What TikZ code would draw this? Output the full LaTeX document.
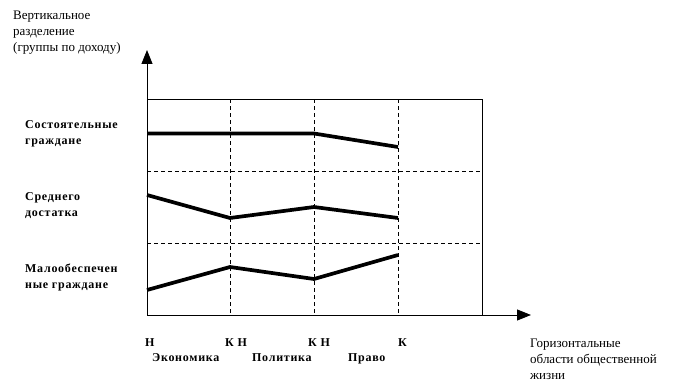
\documentclass[tikz,border=0pt]{standalone}
\usepackage{fontspec}
\setmainfont{Liberation Serif}
\newfontfamily\grpfont[LetterSpace=6]{Liberation Serif}
\usetikzlibrary{arrows.meta}

\begin{document}
\begin{tikzpicture}[
x=1pt, y=-1pt,
axis/.style={line width=0.9pt, -{Triangle[length=14pt, width=11pt]}},
grid/.style={line width=0.9pt, dash pattern=on 4pt off 3pt},
frame/.style={line width=0.9pt},
income/.style={line width=3.7pt, line join=round},
group/.style={anchor=base west, inner sep=0pt, align=left,
  font=\grpfont\bfseries\fontsize{12}{16}\selectfont},
note/.style={anchor=base west, inner sep=0pt, align=left,
  font=\fontsize{13}{16}\selectfont}
]
\useasboundingbox (0,0) rectangle (678,390);

% axes
\coordinate (o) at (147,315);
\coordinate (ytip) at (147,50);
\coordinate (xtip) at (531,315);
\coordinate (boxtr) at (482,99.5);
\draw[axis] (o) -- (ytip);
\draw[axis] (o) -- (xtip);
\draw[frame] (o |- boxtr) -- (boxtr) -- (boxtr |- o);

% grid
\draw[grid] (230,99.5) -- (230,315);
\draw[grid] (314,99.5) -- (314,315);
\draw[grid] (398,99.5) -- (398,315);
\draw[grid] (147,171) -- (482,171);
\draw[grid] (147,243) -- (482,243);

% income groups
\draw[income] (147,133.5) -- (230,133.5) -- (314,133.5) -- (398,147);
\draw[income] (147,195) -- (230,218) -- (314,207) -- (398,218);
\draw[income] (147,290) -- (230,267) -- (314,279) -- (398,255);

% axis notes (base = last line)
\node[note] (vnote) at (13,52) {Вертикальное\\разделение\\(группы по доходу)};
\node[note] (hnote) at (530,379) {Горизонтальные\\области общественной\\жизни};

% group labels
\node[group] (rich) at (25,145) {Состоятельные\\граждане};
\node[group] (middle) at (25,217) {Среднего\\достатка};
\node[group] (poor) at (25,289) {Малообеспечен\\ные граждане};

% start / end marks
\node[group] (b1) at (145,346) {Н};
\node[group] (b2) at (225,346) {К Н};
\node[group] (b3) at (308,346) {К Н};
\node[group] (b4) at (398,346) {К};

% domains
\node[group] (econ) at (152,361) {Экономика};
\node[group] (pol) at (252,361) {Политика};
\node[group] (law) at (348,361) {Право};

\end{tikzpicture}
\end{document}
